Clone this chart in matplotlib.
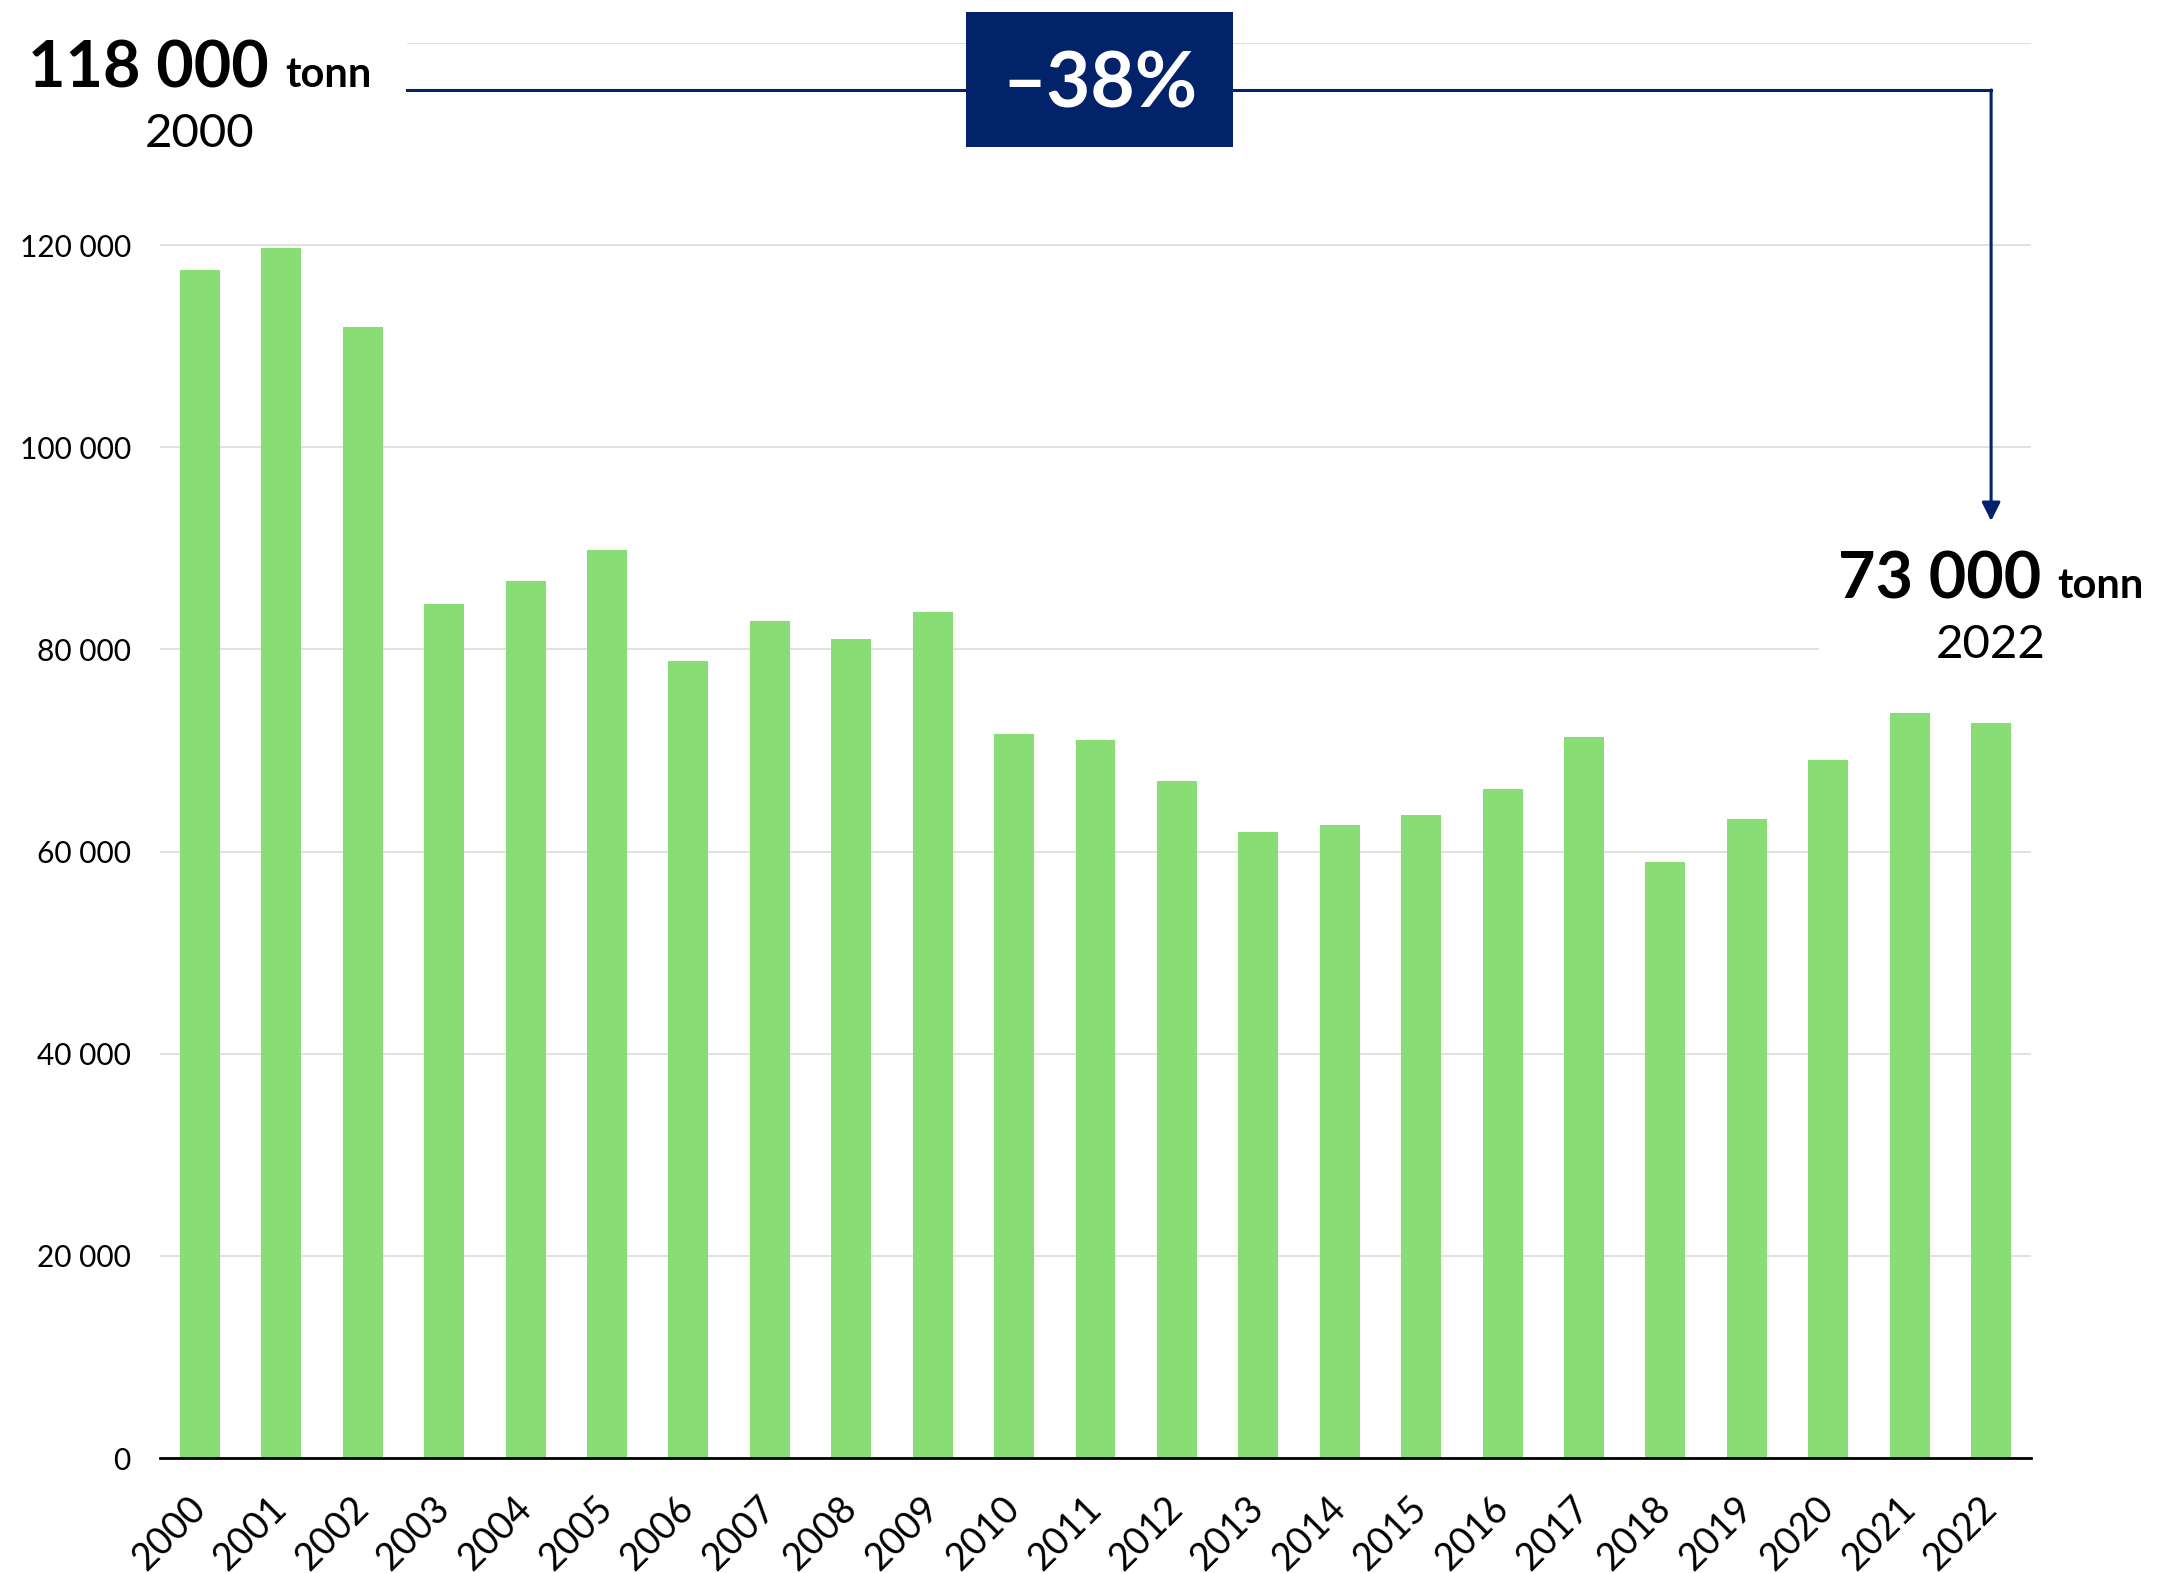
import matplotlib
matplotlib.use("Agg")
import matplotlib.pyplot as plt
import matplotlib.transforms as mtransforms
from matplotlib.lines import Line2D
from matplotlib.patches import Rectangle

plt.rcParams['font.family'] = ['Lato', 'DejaVu Sans']

years = [str(y) for y in range(2000, 2023)]
values = [117500, 119700, 111900, 84500, 86800, 89800, 78900, 82800, 81000, 83700,
          71650, 71050, 66980, 61920, 62590, 63590, 66220, 71300, 58950, 63180,
          69050, 73700, 72770]
yticks = [0, 20000, 40000, 60000, 80000, 100000, 120000]
start_label = ("118 000", "tonn", "2000")
end_label = ("73 000", "tonn", "2022")
change_label = "–38%"

GREEN = "#88DE75"
NAVY = "#02236A"
W, H = 2177, 1573

fig = plt.figure(figsize=(W / 100, H / 100), dpi=100)
ax = fig.add_axes([160 / W, 1 - 1458 / H, 1871 / W, (1458 - 43) / H])

x = list(range(len(years)))
ax.bar(x, values, width=0.49, color=GREEN, zorder=2)
ax.set_xlim(-0.49, 22.49)
ax.set_ylim(0, 140000)
ax.set_yticks(yticks + [140000])
ax.set_yticklabels([f"{v:,}".replace(",", " ") for v in yticks] + [""])
ax.set_xticks(x)
ax.set_xticklabels(years, rotation=45, ha="right", va="center", rotation_mode="anchor")
ax.tick_params(axis="y", length=0, pad=21, labelsize=21.5, labelcolor="black")
ax.tick_params(axis="x", length=0, pad=32, labelsize=27, labelcolor="black")
ax.grid(axis="y", color="#d9d9d9", lw=1.1, zorder=0)
ax.set_axisbelow(True)
for s in ["left", "right", "top"]:
    ax.spines[s].set_visible(False)
ax.spines["bottom"].set_color("black")
ax.spines["bottom"].set_linewidth(2)
ax.spines["bottom"].set_zorder(3)

def fy(py):
    return 1 - py / H

blend = mtransforms.blended_transform_factory(ax.transData, fig.transFigure)

# white masks behind annotation texts
fig.add_artist(Rectangle((0, fy(170)), 407 / W, 170 / H, transform=fig.transFigure,
                         facecolor="white", edgecolor="none", zorder=1))
fig.add_artist(Rectangle((1819 / W, fy(680)), (W - 1819) / W, 160 / H, transform=fig.transFigure,
                         facecolor="white", edgecolor="none", zorder=1))

renderer = fig.canvas.get_renderer()

def big_label(xd, base_y, year_y, parts):
    num, unit, yr = parts
    t1 = fig.text(0, fy(base_y), num + " ", transform=fig.transFigure, fontsize=46.5,
                  fontweight="bold", va="baseline", ha="left", zorder=5)
    t2 = fig.text(0, fy(base_y), unit, transform=fig.transFigure, fontsize=30,
                  fontweight="bold", va="baseline", ha="left", zorder=5)
    w1 = t1.get_window_extent(renderer).width
    w2 = t2.get_window_extent(renderer).width
    cx = ax.transData.transform((xd, 0))[0]
    left = cx - (w1 + w2) / 2
    t1.set_x(left / W)
    t2.set_x((left + w1) / W)
    fig.text(xd, fy(year_y), yr, transform=blend, fontsize=34, va="baseline",
             ha="center", zorder=5)

big_label(0, 87, 147, start_label)
big_label(22, 598, 658, end_label)

# connector line and arrow
line_y = fy(90)
x_start = (ax.transData.inverted().transform((407, 0))[0])
fig.add_artist(Line2D([x_start, 22], [line_y, line_y], transform=blend, color=NAVY,
                      lw=2.2, zorder=4, solid_capstyle="projecting"))
ax.annotate("", xy=(22, fy(521)), xycoords=blend, xytext=(22, line_y), textcoords=blend,
            arrowprops=dict(arrowstyle="-|>", mutation_scale=28, color=NAVY, lw=2.2,
                            shrinkA=0, shrinkB=0), annotation_clip=False, zorder=4)

# box with change
fig.add_artist(Rectangle((966 / W, fy(147)), (1233 - 966) / W, (147 - 12) / H,
                         transform=fig.transFigure, facecolor=NAVY, edgecolor="none", zorder=6))
fig.text(1100 / W, fy(108), change_label, transform=fig.transFigure, fontsize=55,
         fontweight="bold", color="white", ha="center", va="baseline", zorder=7)

fig.savefig("out.png", dpi=100, facecolor="white")
